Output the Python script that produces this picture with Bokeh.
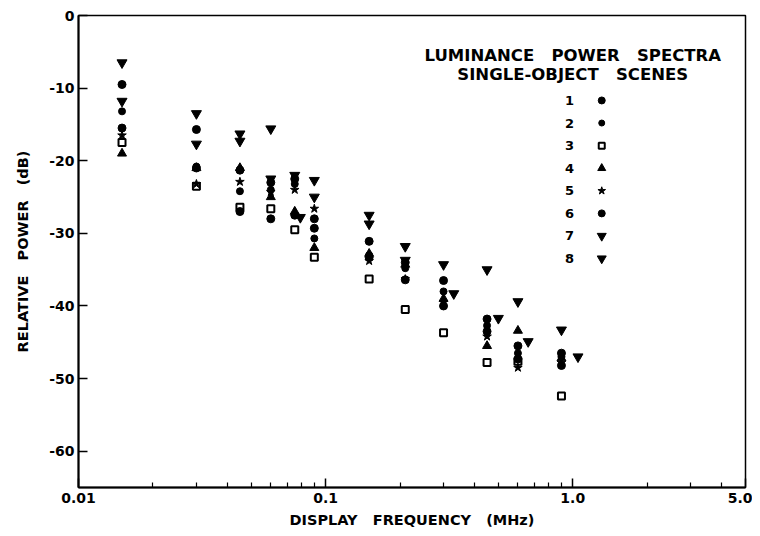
from bokeh.plotting import figure
from bokeh.models import FixedTicker
from bokeh.embed import file_html
from bokeh.resources import INLINE
from bokeh.core.properties import value

# ---- data ----
freq = [0.015, 0.03, 0.045, 0.06, 0.075, 0.09, 0.15, 0.21, 0.30, 0.45, 0.60, 0.90]
freq8 = [0.015, 0.03, 0.045, 0.06, 0.079, 0.09, 0.15, 0.21, 0.33, 0.50, 0.66, 1.05]

scene1 = [-9.5, -15.7, -21.3, -23.0, -22.5, -28.0, -31.1, -34.0, -36.5, -41.8, -45.5, -46.5]
scene2 = [-13.2, -20.8, -24.2, -24.0, -23.2, -30.7, -33.0, -34.8, -38.0, -42.7, -46.5, -47.0]
scene3 = [-17.5, -23.5, -26.4, -26.6, -29.5, -33.3, -36.3, -40.5, -43.7, -47.8, -47.6, -52.4]
scene4 = [-19.0, -21.0, -21.0, -25.0, -27.0, -32.0, -32.8, -34.3, -39.0, -45.5, -43.4, -47.2]
scene5 = [-16.5, -23.2, -22.9, -24.3, -24.0, -26.6, -33.8, -36.3, -39.5, -44.2, -48.5, -47.8]
scene6 = [-15.5, -21.0, -27.0, -28.0, -27.5, -29.3, -33.3, -36.4, -40.0, -43.5, -47.3, -48.2]
scene7 = [-6.5, -13.5, -16.3, -15.6, -22.0, -22.7, -27.5, -31.8, -34.3, -35.0, -39.4, -43.3]
scene8 = [-11.8, -17.7, -17.3, -22.5, -27.8, -25.0, -28.7, -33.7, -38.3, -41.7, -44.9, -47.0]

scene_names = ["1", "2", "3", "4", "5", "6", "7", "8"]
SP = "\u00a0\u00a0\u00a0"
legend_title = ["LUMINANCE" + SP + "POWER" + SP + "SPECTRA",
                "SINGLE-OBJECT" + SP + "SCENES"]
x_ticks = [0.01, 0.1, 1.0, 5.0]
x_tick_labels = ["0.01", "0.1", "1.0", "5.0"]
x_minor = [0.02, 0.03, 0.04, 0.05, 0.06, 0.07, 0.08, 0.09,
           0.2, 0.3, 0.4, 0.5, 0.6, 0.7, 0.8, 0.9, 2, 3, 4]
y_ticks = [0, -10, -20, -30, -40, -50, -60]
y_tick_labels = ["0", "-10", "-20", "-30", "-40", "-50", "-60"]

series = [
    (freq, scene1, "circle", 8, "black"),
    (freq, scene2, "circle", 7, "black"),
    (freq, scene3, "square", 7, "white"),
    (freq, scene4, "triangle", 9, "black"),
    (freq, scene5, "star", 9, "black"),
    (freq, scene6, "circle", 8, "black"),
    (freq, scene7, "inverted_triangle", 10, "black"),
    (freq8, scene8, "inverted_triangle", 10, "black"),
]

FONT = "DejaVu Sans"

p = figure(width=752, height=532, x_axis_type="log",
           x_range=(0.01, 5.0), y_range=(-65, 0),
           output_backend="svg", toolbar_location=None,
           min_border_left=78, min_border_right=7,
           min_border_top=15, min_border_bottom=45)

p.xgrid.visible = False
p.ygrid.visible = False
p.outline_line_color = "black"
p.outline_line_width = 1.5
p.background_fill_color = "white"
p.border_fill_color = "white"

for xs, ys, mk, sz, fill in series:
    p.scatter(xs, ys, marker=mk, size=sz, fill_color=fill,
              line_color="black", line_width=2 if fill == "white" else 1)

# legend block (title, numbers, keys)
leg_x_title = 1.0
leg_x_num = 0.97
leg_x_key = 1.31
leg_y0 = -11.7
leg_dy = 3.11
p.text(x=[leg_x_title, leg_x_title], y=[-5.5, -8.1], text=legend_title,
       text_align="center", text_baseline="middle",
       text_font=value(FONT), text_font_style="bold", text_font_size="16.5px")
leg_ys = [leg_y0 - leg_dy * i for i in range(len(scene_names))]
p.text(x=[leg_x_num] * len(scene_names), y=leg_ys, text=scene_names,
       text_align="center", text_baseline="middle",
       text_font=value(FONT), text_font_style="bold", text_font_size="13px")
for (xs, ys, mk, sz, fill), ly in zip(series, leg_ys):
    p.scatter([leg_x_key], [ly], marker=mk, size=sz - 1, fill_color=fill,
              line_color="black", line_width=2 if fill == "white" else 1)

# axes
p.xaxis.ticker = FixedTicker(ticks=x_ticks, minor_ticks=x_minor)
p.xaxis.major_label_overrides = {t: l for t, l in zip(x_ticks, x_tick_labels)}
p.yaxis.ticker = FixedTicker(ticks=y_ticks, minor_ticks=[])
p.yaxis.major_label_overrides = {t: l for t, l in zip(y_ticks, y_tick_labels)}
p.xaxis.axis_label = "DISPLAY" + SP + "FREQUENCY" + SP + "(MHz)"
p.yaxis.axis_label = "RELATIVE" + SP + "POWER" + SP + "(dB)"
for ax in (p.xaxis, p.yaxis):
    ax.axis_line_width = 2
    ax.axis_line_color = "black"
    ax.major_tick_in = 9
    ax.major_tick_out = 0
    ax.minor_tick_in = 5
    ax.minor_tick_out = 0
    ax.major_tick_line_width = 1.5
    ax.minor_tick_line_width = 1.2
    ax.major_label_text_font = FONT
    ax.major_label_text_font_style = "bold"
    ax.major_label_text_font_size = "14px"
    ax.major_label_text_color = "black"
    ax.axis_label_text_font = FONT
    ax.axis_label_text_font_style = "bold"
    ax.axis_label_text_font_size = "14.5px"
    ax.axis_label_text_color = "black"
p.xaxis.major_label_standoff = 5
p.xaxis.axis_label_standoff = 6
p.yaxis.major_label_standoff = 4
p.yaxis.axis_label_standoff = 15

open("out.html", "w").write(file_html(p, INLINE))
